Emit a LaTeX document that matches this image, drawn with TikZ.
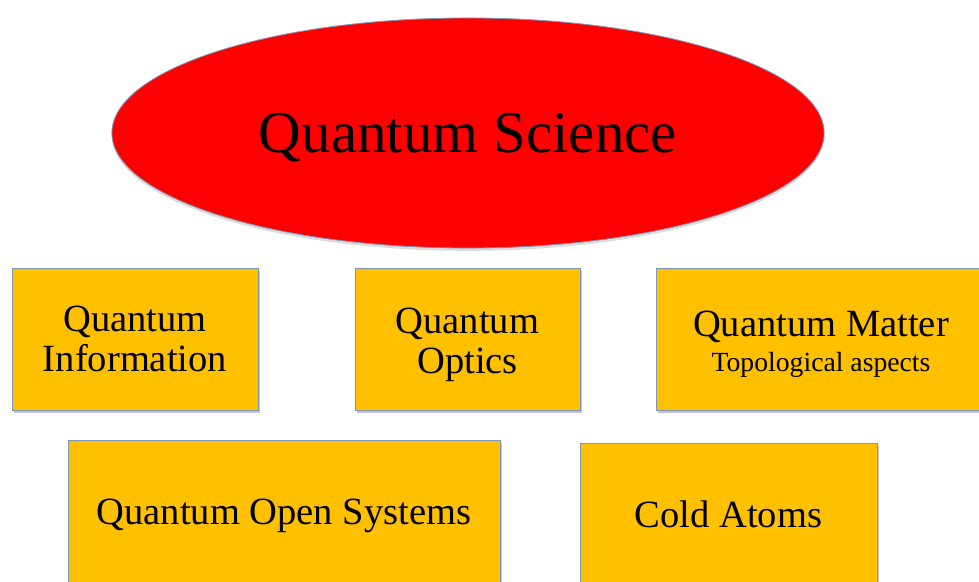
\documentclass[tikz,border=0pt]{standalone}
\usepackage{fontspec}
\setmainfont{Liberation Serif}
\usepackage{tikz}
\usetikzlibrary{shapes.geometric,shadows}
\definecolor{topicfill}{HTML}{FFC000}
\definecolor{topicline}{HTML}{7F97B8}
\definecolor{sciencered}{HTML}{FF0000}
% lower the ink of a text, keep its box
\newcommand{\sinktext}[2]{\raisebox{-#1}[\height][\depth]{#2}}

\begin{document}
\begin{tikzpicture}[x=0.025cm, y=-0.025cm,
    topic/.style={rectangle, draw=topicline, line width=0.6pt, fill=topicfill,
        align=center, inner sep=0pt, minimum height=3.55cm,
        font=\fontsize{27.4}{28.5}\selectfont,
        drop shadow={shadow xshift=1.5pt, shadow yshift=-2pt, fill=black!45, opacity=0.5}},
    science/.style={ellipse, draw=topicline, line width=0.6pt, fill=sciencered,
        inner sep=0pt, minimum width=17.8cm, minimum height=5.75cm,
        font=\fontsize{42}{46}\selectfont,
        drop shadow={shadow xshift=0pt, shadow yshift=-2pt, fill=black!35, opacity=0.4}}]
    \useasboundingbox (0,0) rectangle (979,581);
    % top level
    \node[science] (qscience) at (468,133) {\sinktext{3.5pt}{Quantum Science}};
    % first row
    \node[topic, minimum width=6.15cm] (qinfo) at (135,339) {Quantum\\Information};
    \node[topic, minimum width=5.625cm] (qoptics) at (467.5,339)
        {\sinktext{4pt}{Quantum}\\\sinktext{4pt}{Optics}};
    \node[topic, minimum width=8.25cm] (qmatter) at (821,339)
        {\sinktext{3.5pt}{Quantum Matter}\\[-3.5pt]{\fontsize{19.7}{21}\selectfont\sinktext{3.5pt}{Topological aspects}}};
    % second row
    \node[topic, minimum width=10.8cm] (qopen) at (284,511) {\sinktext{3.5pt}{Quantum Open Systems}};
    \node[topic, minimum width=7.425cm] (coldatoms) at (728.5,514) {Cold Atoms};
\end{tikzpicture}
\end{document}
